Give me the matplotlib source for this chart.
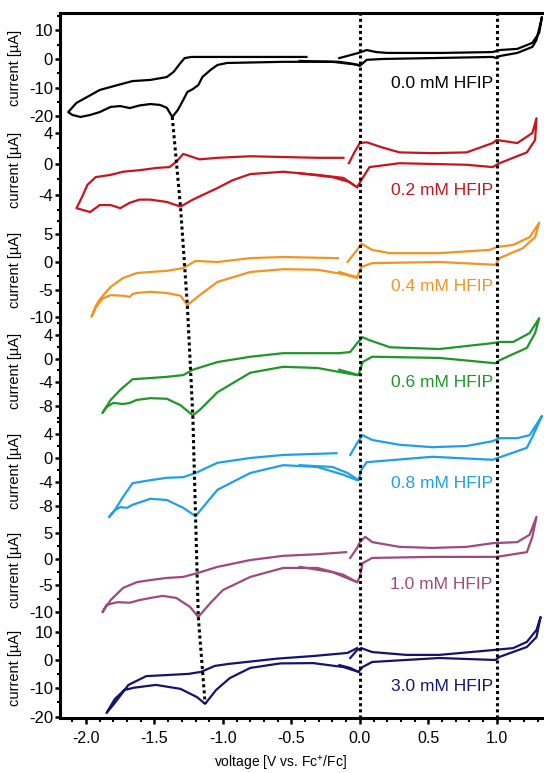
import numpy as np
import matplotlib
matplotlib.use("Agg")
import matplotlib.pyplot as plt
from matplotlib.ticker import MultipleLocator, FixedLocator, AutoMinorLocator, FormatStrFormatter

plt.rcParams['font.family'] = ['Liberation Sans', 'DejaVu Sans']
plt.rcParams['mathtext.fontset'] = 'custom'
plt.rcParams['mathtext.rm'] = 'Liberation Sans'
plt.rcParams['axes.unicode_minus'] = False

# ---- data (V vs Fc+/Fc, current in uA) ----
labels = ['0.0 mM HFIP', '0.2 mM HFIP', '0.4 mM HFIP', '0.6 mM HFIP',
          '0.8 mM HFIP', '1.0 mM HFIP', '3.0 mM HFIP']
colors = ['#000000', '#c8141e', '#f39422', '#1e9628', '#1ea0e8', '#9c4a80', '#14146e']

# 0.0 mM
left_v_00 = [0.0, -0.2, -0.56, -0.97, -1.04, -1.09, -1.15, -1.18, -1.22, -1.26, -1.29, -1.33, -1.37,
             -1.41, -1.46, -1.53, -1.61, -1.68, -1.75, -1.82, -1.90, -1.97, -2.04, -2.10, -2.13,
             -2.07, -1.99, -1.90, -1.77, -1.66, -1.53, -1.41, -1.36, -1.31, -1.28, -1.23, -0.8, -0.39]
left_i_00 = [-2.1, -1.0, -1.0, -1.4, -2.1, -3.8, -6.3, -9.1, -10.5, -11.5, -14.3, -17.8, -20.2,
             -17.0, -16.0, -15.7, -16.2, -17.1, -16.4, -16.7, -18.5, -19.5, -20.2, -19.5, -18.5,
             -15.3, -13.2, -10.8, -9.1, -7.7, -7.3, -6.3, -4.5, -1.4, 0.3, 0.7, 0.7, 0.7]
right_v_00 = [-0.15, -0.01, 0.05, 0.12, 0.20, 0.60, 0.97, 1.02, 1.15, 1.26, 1.31, 1.33,
              1.29, 1.26, 1.15, 1.02, 1.0, 0.97, 0.53, 0.17, 0.05, 0.0, -0.05, -0.15, -0.44]
right_i_00 = [0.3, 2.1, 3.1, 2.4, 2.1, 2.1, 2.4, 3.1, 3.5, 5.6, 9.1, 14.6,
              6.6, 4.2, 2.1, 1.0, 0.3, 0.7, 0.3, 0.0, -0.3, -2.4, -1.7, -1.0, -0.7]

# 0.2 mM
left_v_02 = [-0.02, -0.12, -0.31, -0.56, -0.80, -0.93, -1.04, -1.22, -1.31, -1.41, -1.53, -1.61, -1.68,
             -1.75, -1.82, -1.90, -1.97, -2.07, -2.03, -1.99, -1.93, -1.82, -1.73, -1.61, -1.48, -1.39,
             -1.34, -1.29, -1.17, -1.04, -0.80, -0.56, -0.31, -0.12]
left_i_02 = [-3.0, -1.8, -1.4, -1.0, -1.3, -2.1, -3.1, -4.6, -5.5, -4.9, -4.6, -4.6, -5.0,
             -5.7, -5.3, -5.3, -6.2, -5.7, -4.3, -2.7, -1.7, -1.4, -1.0, -0.8, -0.5, -0.4,
             0.3, 1.3, 0.6, 0.8, 1.0, 0.9, 0.8, 0.8]
right_v_02 = [-0.08, -0.04, 0.0, 0.05, 0.17, 0.29, 0.53, 0.78, 0.97, 1.0, 1.15, 1.26, 1.29,
              1.28, 1.22, 1.02, 0.97, 0.78, 0.29, 0.07, 0.01, -0.02, -0.08, -0.2, -0.44]
right_i_02 = [0.1, 1.5, 2.7, 2.8, 2.1, 1.5, 1.4, 1.5, 2.7, 3.1, 2.7, 4.0, 5.9,
              3.1, 1.5, 0.1, -0.4, -0.1, 0.1, -0.4, -2.1, -3.0, -2.3, -1.7, -1.2]

# 0.4 mM
left_v_04 = [-0.02, -0.12, -0.31, -0.56, -0.80, -1.04, -1.17, -1.26, -1.31, -1.41, -1.53, -1.63, -1.66,
             -1.68, -1.73, -1.82, -1.88, -1.93, -1.96, -1.93, -1.90, -1.86, -1.82, -1.73, -1.63, -1.53,
             -1.41, -1.29, -1.20, -1.04, -0.80, -0.56, -0.16]
left_i_04 = [-2.9, -2.2, -1.4, -1.3, -1.8, -3.6, -6.0, -7.8, -6.1, -5.6, -5.4, -5.6, -5.8,
             -6.3, -6.1, -6.0, -6.6, -8.3, -9.9, -8.0, -6.8, -5.6, -4.5, -2.9, -2.0, -1.8,
             -1.6, -1.1, 0.2, 0.0, 0.7, 0.9, 0.7]
right_v_04 = [-0.09, -0.02, 0.01, 0.09, 0.22, 0.58, 0.95, 1.0, 1.12, 1.24, 1.31,
              1.28, 1.19, 1.02, 0.99, 0.58, 0.09, 0.01, -0.02, -0.07, -0.15]
right_i_04 = [0.0, 2.2, 3.3, 2.2, 1.6, 1.6, 2.2, 2.7, 3.1, 4.5, 7.1,
              4.5, 2.5, 0.7, -0.5, 0.0, -0.2, -0.9, -2.7, -2.4, -1.8]

# 0.6 mM
left_v_06 = [-0.02, -0.12, -0.31, -0.56, -0.80, -1.04, -1.17, -1.22, -1.31, -1.41, -1.53, -1.63, -1.68,
             -1.73, -1.80, -1.85, -1.88, -1.82, -1.75, -1.66, -1.53, -1.41, -1.29, -1.22, -1.04,
             -0.80, -0.56, -0.15]
left_i_06 = [-2.8, -2.4, -1.6, -1.4, -2.4, -5.7, -8.7, -9.6, -7.9, -6.8, -6.7, -7.0, -7.5,
             -7.7, -7.5, -8.2, -9.2, -7.0, -5.3, -3.5, -3.3, -3.1, -2.8, -1.9, -0.6,
             0.3, 0.9, 0.9]
right_v_06 = [-0.15, -0.07, -0.02, 0.02, 0.07, 0.22, 0.58, 0.97, 1.02, 1.12, 1.24, 1.31,
              1.28, 1.22, 1.02, 0.99, 0.58, 0.09, 0.02, -0.01, -0.07, -0.15]
right_i_06 = [0.9, 1.1, 2.6, 3.6, 3.1, 1.9, 1.6, 2.6, 2.8, 2.8, 4.3, 6.8,
              4.3, 1.8, -0.3, -0.8, 0.1, 0.3, -0.6, -2.8, -2.4, -1.9]

# 0.8 mM
left_v_08 = [-0.02, -0.12, -0.31, -0.56, -0.80, -1.04, -1.12, -1.20, -1.29, -1.41, -1.53, -1.66, -1.70,
             -1.75, -1.79, -1.83, -1.79, -1.73, -1.66, -1.53, -1.41, -1.29, -1.20, -1.04, -0.80,
             -0.56, -0.17]
left_i_08 = [-3.7, -2.8, -1.5, -1.2, -2.5, -5.3, -7.5, -9.7, -8.3, -7.0, -6.8, -7.8, -8.3,
             -8.2, -8.7, -9.8, -8.7, -6.5, -4.2, -3.7, -3.3, -3.2, -2.5, -0.8, 0.0,
             0.5, 0.8]
right_v_08 = [-0.07, -0.02, 0.02, 0.09, 0.29, 0.53, 0.78, 0.97, 1.02, 1.15, 1.24, 1.31, 1.33,
              1.26, 1.22, 0.97, 0.53, 0.05, 0.01, -0.01, -0.09, -0.2, -0.44]
right_i_08 = [0.5, 2.5, 3.8, 3.0, 2.2, 1.8, 2.0, 2.8, 3.3, 3.3, 3.8, 6.3, 7.0,
              3.5, 1.7, -0.3, 0.2, -0.7, -2.0, -3.7, -2.5, -1.5, -1.2]

# 1.0 mM
left_v_10 = [-0.02, -0.12, -0.31, -0.56, -0.80, -1.0, -1.09, -1.18, -1.24, -1.34, -1.44, -1.53, -1.61,
             -1.68, -1.77, -1.85, -1.88, -1.82, -1.73, -1.63, -1.53, -1.41, -1.29, -1.19, -1.04,
             -0.80, -0.56, -0.31, -0.10]
left_i_10 = [-4.4, -3.0, -1.7, -1.7, -3.4, -5.9, -8.3, -11.0, -9.1, -7.4, -7.0, -7.4, -7.8,
             -8.3, -8.2, -8.7, -10.1, -7.8, -5.5, -4.4, -4.0, -3.6, -3.4, -2.7, -1.5,
             -0.2, 0.6, 0.9, 1.3]
right_v_10 = [-0.07, -0.02, 0.0, 0.04, 0.09, 0.29, 0.53, 0.78, 0.97, 1.15, 1.24, 1.29,
              1.26, 1.22, 1.0, 0.53, 0.09, 0.02, 0.0, -0.02, -0.2, -0.44]
right_i_10 = [0.2, 2.1, 3.2, 4.2, 3.2, 2.3, 2.1, 2.3, 3.0, 3.2, 4.6, 8.0,
              4.2, 1.3, 0.4, 0.4, 0.2, -0.8, -3.4, -4.4, -2.5, -1.5]

# 3.0 mM
left_v_30 = [-0.01, -0.12, -0.34, -0.58, -0.80, -0.95, -1.05, -1.13, -1.19, -1.31, -1.49, -1.65, -1.72,
             -1.79, -1.85, -1.79, -1.69, -1.56, -1.40, -1.25, -1.16, -1.06, -0.96, -0.60, -0.34,
             -0.09, -0.02]
left_i_30 = [-4.2, -2.5, -1.1, -1.2, -2.8, -6.4, -10.6, -15.5, -13.1, -10.2, -8.8, -9.8, -10.6,
             -13.8, -18.7, -15.2, -8.8, -5.7, -5.3, -4.9, -4.2, -2.1, -1.4, 0.5, 1.4,
             2.5, 4.2]
right_v_30 = [-0.07, -0.02, 0.01, 0.09, 0.34, 0.58, 0.97, 1.12, 1.22, 1.29, 1.32,
              1.29, 1.22, 1.02, 0.99, 0.58, 0.09, 0.02, -0.01, -0.07, -0.15]
right_i_30 = [0.7, 3.5, 4.2, 2.8, 1.8, 1.8, 3.5, 4.2, 6.4, 10.6, 15.2,
              8.1, 4.6, 1.1, 0.0, 0.7, -0.7, -2.5, -4.2, -2.8, -1.8]

left_v = [left_v_00, left_v_02, left_v_04, left_v_06, left_v_08, left_v_10, left_v_30]
left_i = [left_i_00, left_i_02, left_i_04, left_i_06, left_i_08, left_i_10, left_i_30]
right_v = [right_v_00, right_v_02, right_v_04, right_v_06, right_v_08, right_v_10, right_v_30]
right_i = [right_i_00, right_i_02, right_i_04, right_i_06, right_i_08, right_i_10, right_i_30]

# axis setup per panel
ylims = [(-21.95, 16.0), (-6.97, 5.42), (-10.85, 7.96), (-10.39, 6.17),
         (-10.67, 6.33), (-11.2, 7.02), (-20.5, 14.84)]
yticks = [[-20, -10, 0, 10], [-4, 0, 4], [-10, -5, 0, 5], [-8, -4, 0, 4],
          [-8, -4, 0, 4], [-10, -5, 0, 5], [-20, -10, 0, 10]]
label_y = [-8.4, -3.4, -4.5, -4.1, -4.2, -4.9, -9.2]
heights = [109, 96, 104, 98, 102, 96, 100]

fig = plt.figure(figsize=(5.44, 7.73), dpi=100)
gs = fig.add_gridspec(7, 1, height_ratios=heights, hspace=0,
                      left=60 / 544, right=1.0, top=1 - 13 / 773, bottom=1 - 718 / 773)
axes = [fig.add_subplot(gs[k]) for k in range(7)]

lw_spine = 2.2
for k, ax in enumerate(axes):
    c = colors[k]
    ax.plot(left_v[k], left_i[k], color=c, lw=1.6, clip_on=False, solid_joinstyle='round')
    ax.plot(right_v[k], right_i[k], color=c, lw=1.6, clip_on=False, solid_joinstyle='round')
    ax.set_xlim(-2.19, 1.345)
    ax.set_ylim(*ylims[k])
    ax.yaxis.set_major_locator(FixedLocator(yticks[k]))
    ax.yaxis.set_minor_locator(AutoMinorLocator(2))
    ax.patch.set_alpha(0)
    for s in ['right', 'top', 'bottom']:
        ax.spines[s].set_visible(False)
    ax.spines['left'].set_linewidth(lw_spine)
    ax.tick_params(axis='y', which='major', direction='out', length=3.5, width=1.8,
                   labelsize=12, pad=1.5)
    ax.tick_params(axis='y', which='minor', direction='out', length=2, width=1.5)
    ax.set_ylabel('current [µA]', fontsize=10.5)
    ax.yaxis.set_label_coords(-0.079, 0.5)
    ax.text(0.97, label_y[k], labels[k], color=c, fontsize=12.5, ha='right', va='center')
    if k < 6:
        ax.tick_params(axis='x', which='both', bottom=False, labelbottom=False)

axes[0].spines['top'].set_visible(True)
axes[0].spines['top'].set_linewidth(lw_spine)
bax = axes[-1]
bax.spines['bottom'].set_visible(True)
bax.spines['bottom'].set_linewidth(lw_spine)
bax.xaxis.set_major_locator(MultipleLocator(0.5))
bax.xaxis.set_minor_locator(MultipleLocator(0.1))
bax.xaxis.set_major_formatter(FormatStrFormatter('%.1f'))
bax.tick_params(axis='x', which='major', direction='out', length=4.5, width=1.8,
                labelsize=11.5, pad=5)
bax.tick_params(axis='x', which='minor', direction='out', length=3, width=1.5)
bax.set_xlabel('voltage [V vs. Fc$^{+}$/Fc]', fontsize=10)
bax.xaxis.set_label_coords(0.4545, -0.355)

# overlay for the dotted guide lines
pos_top = axes[0].get_position()
pos_bot = axes[-1].get_position()
ov = fig.add_axes([pos_bot.x0, pos_bot.y0, pos_bot.width, pos_top.y1 - pos_bot.y0])
ov.set_xlim(-2.19, 1.345)
ov.set_ylim(0, 1)
ov.axis('off')
dots = dict(color='black', lw=2.2, linestyle=(0, (1, 1)))
for v0 in [0.0, 1.0]:
    ov.axvline(v0, **dots)

# line through the cathodic peaks of each panel
pts = []
for k, ax in enumerate(axes):
    v = np.array(left_v[k])
    i = np.array(left_i[k])
    sel = (v < -1.0) & (v > -1.45)
    j = np.where(sel)[0][np.argmin(i[sel])]
    disp = ax.transData.transform((v[j], i[j]))
    pts.append(ov.transData.inverted().transform(disp))
pts = np.array(pts)
ov.plot(pts[:, 0], pts[:, 1], **dots)

fig.savefig('out.png', dpi=100)
